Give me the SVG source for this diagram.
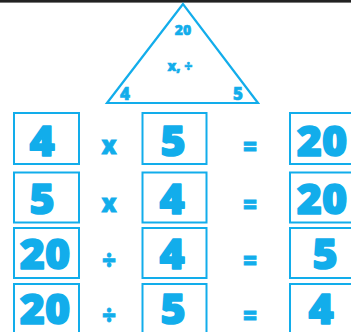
<svg xmlns="http://www.w3.org/2000/svg" width="351" height="332" viewBox="0 0 351 332">
<style>
.b{fill:#fff;stroke:#12adeb;stroke-width:2}
.d{font-family:"Open Sans","Liberation Sans",sans-serif;font-weight:800;font-size:43px;fill:#12adeb;stroke:#12adeb;stroke-width:1.6;stroke-linejoin:round;text-anchor:middle}
.o{font-family:"Open Sans","Liberation Sans",sans-serif;font-weight:800;font-size:24px;fill:#12adeb;stroke:#12adeb;stroke-width:0.8;text-anchor:middle}
.t{font-family:"Open Sans","Liberation Sans",sans-serif;font-weight:800;fill:#12adeb;stroke:#12adeb;stroke-width:0.6;text-anchor:middle}
</style>
<rect x="0" y="0" width="351" height="332" fill="#fff"/>
<rect x="0" y="0" width="351" height="2.6" fill="#222"/>
<g id="triangle">
<polygon points="183,4 107,103 258,103" fill="none" stroke="#12adeb" stroke-width="2.2" stroke-linejoin="miter"/>
<text class="t" x="183" y="35" font-size="14">20</text>
<text class="t" x="180" y="71" font-size="14">x, ÷</text>
<text class="t" x="125" y="100" font-size="17">4</text>
<text class="t" x="238" y="100" font-size="17">5</text>
</g>
<g id="row1">
<rect class="b" x="14" y="113" width="65" height="51"/>
<text class="d" x="42" y="156">4</text>
<text class="o" x="109" y="154">x</text>
<rect class="b" x="142.5" y="113" width="64" height="51"/>
<text class="d" x="173" y="156">5</text>
<text class="o" x="250" y="155">=</text>
<rect class="b" x="290" y="113" width="66" height="51"/>
<text class="d" x="322" y="156">20</text>
</g>
<g id="row2">
<rect class="b" x="14" y="172.5" width="65" height="50"/>
<text class="d" x="42" y="214">5</text>
<text class="o" x="109" y="212">x</text>
<rect class="b" x="142.5" y="172.5" width="64" height="50"/>
<text class="d" x="172" y="214">4</text>
<text class="o" x="250" y="213">=</text>
<rect class="b" x="290" y="172.5" width="66" height="50"/>
<text class="d" x="322" y="214">20</text>
</g>
<g id="row3">
<rect class="b" x="14" y="228" width="65" height="50"/>
<text class="d" x="45" y="269">20</text>
<text class="o" x="109" y="269">÷</text>
<rect class="b" x="142.5" y="228" width="64" height="50"/>
<text class="d" x="172" y="269">4</text>
<text class="o" x="250" y="269">=</text>
<rect class="b" x="290" y="228" width="66" height="50"/>
<text class="d" x="325" y="269">5</text>
</g>
<g id="row4">
<rect class="b" x="14" y="284" width="65" height="60"/>
<text class="d" x="45" y="324">20</text>
<text class="o" x="109" y="324">÷</text>
<rect class="b" x="142.5" y="284" width="64" height="60"/>
<text class="d" x="173" y="324">5</text>
<text class="o" x="250" y="324">=</text>
<rect class="b" x="290" y="284" width="66" height="60"/>
<text class="d" x="321" y="324">4</text>
</g>
</svg>
